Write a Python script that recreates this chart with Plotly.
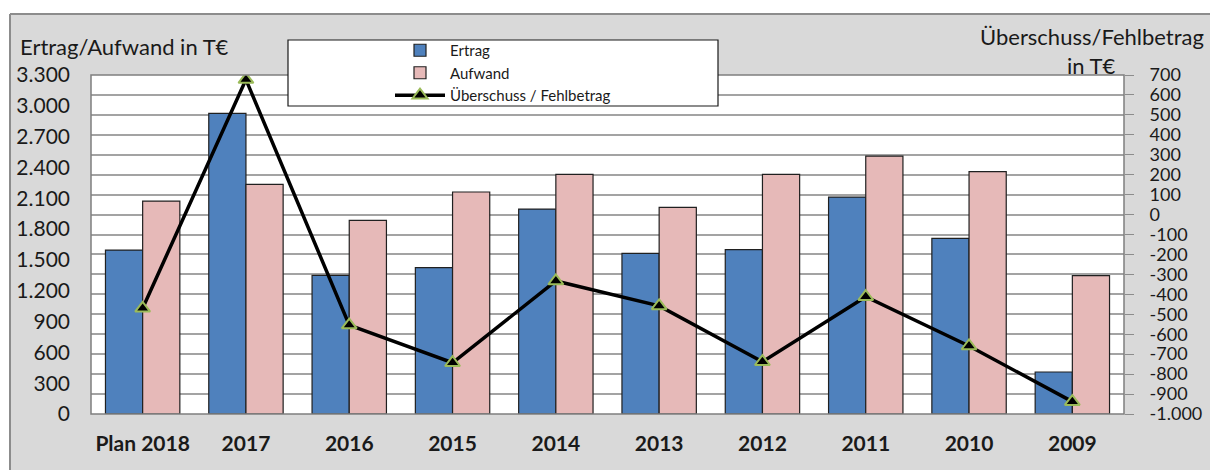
import plotly.graph_objects as go

categories = ["Plan 2018", "2017", "2016", "2015", "2014", "2013", "2012", "2011", "2010", "2009"]
ertrag = [1596, 2927, 1350, 1424, 1995, 1564, 1600, 2112, 1710, 409]
aufwand = [2073, 2236, 1885, 2161, 2333, 2012, 2333, 2511, 2359, 1347]
saldo = [-470, 677, -554, -743, -333, -458, -738, -412, -659, -938]

left_ticks = list(range(0, 3301, 300))
right_ticks = list(range(-1000, 701, 100))


def de_fmt(v):
    s = f"{abs(v):,}".replace(",", ".")
    return ("-" if v < 0 else "") + s


right_text = [de_fmt(v) for v in right_ticks]

W, H = 1210, 470
L, R, T, B = 91, 1124, 75, 414


def px(x):
    return (x - L) / (R - L)


def py(y):
    return (B - y) / (B - T)


FONT = "Lato"
TXT = "#1a1a1a"

fig = go.Figure()
fig.add_trace(go.Bar(
    x=categories, y=ertrag, name="Ertrag",
    marker=dict(color="#4f81bd", line=dict(color="#202020", width=1.2)),
))
fig.add_trace(go.Bar(
    x=categories, y=aufwand, name="Aufwand",
    marker=dict(color="#e6b9b8", line=dict(color="#202020", width=1.2)),
))
fig.add_trace(go.Scatter(
    x=categories, y=saldo, name="Überschuss / Fehlbetrag", yaxis="y2",
    mode="lines+markers",
    line=dict(color="black", width=3.5),
    marker=dict(symbol="triangle-up", size=13, color="black",
                line=dict(color="#9bbb59", width=2)),
))

shapes = [
    dict(type="rect", xref="paper", yref="paper", x0=px(-5), x1=px(1215), y0=py(14), y1=py(-5),
         fillcolor="white", line=dict(width=0), layer="below"),
    dict(type="rect", xref="paper", yref="paper", x0=px(-5), x1=px(10), y0=py(480), y1=py(14),
         fillcolor="white", line=dict(width=0), layer="below"),
    dict(type="line", xref="paper", yref="paper", x0=px(10), x1=px(1215), y0=py(14), y1=py(14),
         line=dict(color="#8c8c8c", width=2)),
    dict(type="line", xref="paper", yref="paper", x0=px(10), x1=px(10), y0=py(14), y1=py(480),
         line=dict(color="#8c8c8c", width=2)),
    # plot area border
    dict(type="rect", xref="paper", yref="paper", x0=0, x1=1, y0=0, y1=1,
         line=dict(color="#7f7f7f", width=1.5), layer="above"),
    # legend box
    dict(type="rect", xref="paper", yref="paper", x0=px(288), x1=px(718), y0=py(106), y1=py(40),
         fillcolor="white", line=dict(color="#1a1a1a", width=1.2), layer="above"),
]

annotations = [
    dict(text="Ertrag/Aufwand in T€", x=px(18), y=py(46), xref="paper", yref="paper",
         xanchor="left", yanchor="middle", showarrow=False, font=dict(size=22, color=TXT, family=FONT)),
    dict(text="Überschuss/Fehlbetrag", x=px(1206), y=py(36), xref="paper", yref="paper",
         xanchor="right", yanchor="middle", showarrow=False, font=dict(size=22, color=TXT, family=FONT)),
    dict(text="in T€", x=px(1118), y=py(66), xref="paper", yref="paper",
         xanchor="right", yanchor="middle", showarrow=False, font=dict(size=22, color=TXT, family=FONT)),
]

fig.update_layout(
    width=W, height=H,
    margin=dict(l=L, r=W - R, t=T, b=H - B, pad=0, autoexpand=False),
    paper_bgcolor="#d9d9d9", plot_bgcolor="white",
    separators=",.",
    barmode="group", bargap=0.28, bargroupgap=0,
    font=dict(family=FONT, color=TXT),
    showlegend=True,
    legend=dict(x=px(390), y=py(34), xanchor="left", yanchor="top",
                bgcolor="rgba(0,0,0,0)", borderwidth=0, itemwidth=50,
                font=dict(size=15, color=TXT, family=FONT), tracegroupgap=0),
    xaxis=dict(range=[-0.5, len(categories) - 0.5], showgrid=False, showline=False, ticks="",
               automargin=False, tickfont=dict(size=21, family=FONT, color=TXT),
               ticklabelstandoff=15, tickprefix="<b>", ticksuffix="</b>"),
    yaxis=dict(range=[0, 3300], tickvals=left_ticks, tickformat=",d", showgrid=False, zeroline=False,
               ticks="", showline=False, automargin=False,
               tickfont=dict(size=21, family=FONT, color=TXT), ticklabelstandoff=20),
    yaxis2=dict(range=[-1000, 700], overlaying="y", side="right", tickvals=right_ticks,
                ticktext=right_text, showgrid=True, gridcolor="#a3a3a3", gridwidth=1.5,
                zeroline=False, ticks="outside", ticklen=9, tickcolor="#8c8c8c", tickwidth=1,
                automargin=False,
                tickfont=dict(size=18, family=FONT, color=TXT), ticklabelstandoff=12),
    shapes=shapes,
    annotations=annotations,
)

fig.write_html("out.html", config={"displayModeBar": False},
               post_script="document.body.style.margin='0';document.body.style.padding='0';")
